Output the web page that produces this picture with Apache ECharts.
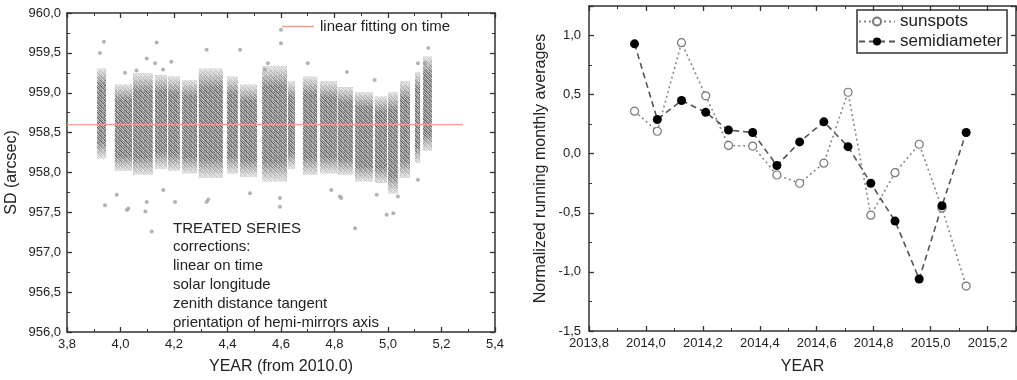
<!DOCTYPE html>
<html><head><meta charset="utf-8">
<script src="https://cdn.jsdelivr.net/npm/echarts@6/dist/echarts.min.js"></script>
<style>html,body{margin:0;padding:0;background:#fff}#c{width:1017px;height:380px}</style>
</head><body><div id="c"></div>
<script>
const stripStart = [3.912, 3.979, 4.047, 4.129, 4.178, 4.230, 4.293, 4.398, 4.447, 4.529, 4.626, 4.682, 4.746, 4.812, 4.877, 4.951, 5.000, 5.045, 5.101, 5.131];
const stripEnd   = [3.946, 4.043, 4.121, 4.174, 4.222, 4.286, 4.383, 4.439, 4.510, 4.622, 4.652, 4.735, 4.809, 4.869, 4.944, 4.996, 5.037, 5.082, 5.120, 5.164];
const stripLow   = [958.18, 958.02, 957.97, 958.05, 958.02, 957.99, 957.93, 957.99, 957.95, 957.89, 958.05, 957.97, 957.99, 957.97, 957.89, 957.87, 957.74, 957.93, 958.12, 958.27];
const stripHigh  = [959.30, 959.10, 959.24, 959.22, 959.20, 959.16, 959.30, 959.20, 959.10, 959.33, 959.14, 959.20, 959.14, 959.07, 959.01, 958.95, 959.01, 959.14, 959.26, 959.45];
const outlierYear = [3.938, 3.923, 4.135, 4.098, 4.017, 4.060, 4.190, 4.322, 4.447, 4.129, 4.159, 3.942, 3.986, 4.029, 4.117, 4.204, 4.322, 4.098, 4.160, 4.877, 4.995, 5.020, 4.596, 4.596, 4.820, 4.958, 4.600, 4.600, 5.151, 5.138, 4.700, 4.846, 4.551, 4.540, 5.112, 4.950, 4.788, 4.825, 5.037, 5.112, 4.484, 4.328, 4.024, 4.093];
const outlierSD   = [959.64, 959.50, 959.63, 959.43, 959.25, 959.28, 959.39, 959.54, 959.54, 959.37, 959.29, 957.59, 957.72, 957.55, 957.26, 957.63, 957.63, 957.63, 957.78, 957.30, 957.47, 957.49, 957.57, 957.68, 957.70, 957.72, 959.79, 959.62, 959.56, 959.37, 959.37, 959.26, 959.37, 959.29, 959.37, 959.16, 957.78, 957.68, 957.70, 957.91, 957.74, 957.66, 957.53, 957.51];
const fitYear = [3.8, 5.28];
const fitSD = [958.6, 958.6];
const leftXTicks = {min: 3.8, max: 5.4, interval: 0.2};
const leftYTicks = {min: 956, max: 960, interval: 0.5};
const annotationLines = ['TREATED SERIES', 'corrections:', 'linear on time', 'solar longitude', 'zenith distance tangent', 'orientation of hemi-mirrors axis'];

// ---- Right panel
const months = [2013.96, 2014.04, 2014.125, 2014.21, 2014.29, 2014.375, 2014.46, 2014.54, 2014.625, 2014.71, 2014.79, 2014.875, 2014.96, 2015.04, 2015.125];
const sunspots = [0.36, 0.19, 0.94, 0.49, 0.07, 0.065, -0.18, -0.25, -0.08, 0.52, -0.52, -0.16, 0.08, -0.46, -1.12];
const semidiameter = [0.93, 0.29, 0.45, 0.35, 0.20, 0.18, -0.10, 0.10, 0.27, 0.06, -0.25, -0.57, -1.06, -0.44, 0.18];
const rightXTicks = {min: 2013.8, max: 2015.3, interval: 0.2};
const rightYTicks = {min: -1.5, max: 1.25, interval: 0.5};

const FONT = "'Liberation Sans', Arial, sans-serif";
const TXT = '#222';

// mottled texture used to paint the dense dot strips (style only)
function makePattern() {
  const g8 = [
    [ 95, 175, 125, 205, 110],
    [150,  75, 190, 135, 165],
    [205, 130, 100, 175,  85],
    [115, 185, 150,  90, 195],
    [170, 105, 215, 140, 120]
  ];
  const c = document.createElement('canvas');
  c.width = 5; c.height = 5;
  const g = c.getContext('2d');
  for (let y = 0; y < 5; y++) for (let x = 0; x < 5; x++) {
    const v = g8[y][x];
    g.fillStyle = 'rgb(' + v + ',' + v + ',' + v + ')';
    g.fillRect(x, y, 1, 1);
  }
  return c;
}
const stripPat = makePattern();

const fmt = v => v.toFixed(1).replace('.', ',');

function valAxis(t, gridIndex, pos, labels, extra) {
  return Object.assign({
    type: 'value', gridIndex, position: pos,
    min: t.min, max: t.max, interval: t.interval,
    axisLine: {show: true, onZero: false, lineStyle: {color: '#333', width: 1.5}},
    axisTick: {show: true, inside: true, length: 5, lineStyle: {color: '#333', width: 1.3}},
    minorTick: {show: true, splitNumber: 2, length: 3, lineStyle: {color: '#333', width: 1}},
    splitLine: {show: false},
    axisLabel: {show: labels, formatter: fmt, fontSize: 13, color: TXT, fontFamily: FONT},
  }, extra || {});
}

const chart = echarts.init(document.getElementById('c'), null, {renderer: 'canvas'});
chart.setOption({
  animation: false,
  backgroundColor: '#fff',
  grid: [
    {left: 67, top: 13, width: 428, height: 319},
    {left: 589, top: 6, width: 427, height: 325}
  ],
  xAxis: [
    valAxis(leftXTicks, 0, 'bottom', true, {name: 'YEAR (from 2010.0)', nameLocation: 'middle', nameGap: 27,
      nameTextStyle: {fontSize: 16, color: TXT, fontFamily: FONT}, axisLabel: {formatter: fmt, fontSize: 13, color: TXT, fontFamily: FONT, margin: 6}}),
    valAxis(leftXTicks, 0, 'top', false),
    valAxis(rightXTicks, 1, 'bottom', true, {name: 'YEAR', nameLocation: 'middle', nameGap: 28,
      nameTextStyle: {fontSize: 16, color: TXT, fontFamily: FONT}, axisLabel: {formatter: fmt, fontSize: 13, color: TXT, fontFamily: FONT, margin: 6, showMaxLabel: false}}),
    valAxis(rightXTicks, 1, 'top', false)
  ],
  yAxis: [
    valAxis(leftYTicks, 0, 'left', true, {name: 'SD (arcsec)', nameLocation: 'middle', nameGap: 47,
      nameTextStyle: {fontSize: 16, color: TXT, fontFamily: FONT}, axisLabel: {formatter: fmt, fontSize: 13, color: TXT, fontFamily: FONT, margin: 6}}),
    valAxis(leftYTicks, 0, 'right', false),
    valAxis(rightYTicks, 1, 'left', true, {name: 'Normalized running monthly averages', nameLocation: 'middle', nameGap: 40,
      nameTextStyle: {fontSize: 16, color: TXT, fontFamily: FONT}, axisLabel: {formatter: fmt, fontSize: 13, color: TXT, fontFamily: FONT, margin: 8, showMaxLabel: false}}),
    valAxis(rightYTicks, 1, 'right', false)
  ],
  legend: [
    {data: [{name: 'linear fitting on time', icon: 'rect'}], left: 282, top: 19, padding: 0,
     itemWidth: 32, itemHeight: 1.5, selectedMode: false,
     textStyle: {fontSize: 15, color: TXT, fontFamily: FONT, padding: [0, 0, 0, 1]}},
    {data: ['sunspots', 'semidiameter'], orient: 'vertical', left: 857, top: 10, selectedMode: false,
     borderColor: '#333', borderWidth: 1.5, padding: [3, 5, 3, 1], itemGap: 3, itemWidth: 36, itemHeight: 10,
     textStyle: {fontSize: 17, color: TXT, fontFamily: FONT}}
  ],
  graphic: [{
    type: 'text', left: 173, top: 219,
    style: {text: annotationLines.join('\n'), fontSize: 15, lineHeight: 18.8, fill: TXT, fontFamily: FONT}
  }],
  series: [
    {
      type: 'custom', xAxisIndex: 0, yAxisIndex: 0, silent: true,
      data: stripStart.map((s, i) => [s, stripEnd[i], stripLow[i], stripHigh[i]]),
      encode: {x: [0, 1], y: [2, 3]},
      renderItem: function (params, api) {
        const p0 = api.coord([api.value(0), api.value(3)]);
        const p1 = api.coord([api.value(1), api.value(2)]);
        const w = p1[0] - p0[0], h = p1[1] - p0[1];
        return {type: 'group', children: [
          {type: 'rect', shape: {x: p0[0], y: p0[1], width: w, height: h}, style: {fill: {image: stripPat, repeat: 'repeat'}}},
          {type: 'rect', shape: {x: p0[0], y: p0[1], width: w, height: h}, style: {fill: new echarts.graphic.LinearGradient(0, 0, 0, 1, [
            {offset: 0, color: 'rgba(255,255,255,0.75)'},
            {offset: 0.18, color: 'rgba(255,255,255,0.05)'},
            {offset: 0.82, color: 'rgba(255,255,255,0.05)'},
            {offset: 1, color: 'rgba(255,255,255,0.75)'}
          ])}}
        ]};
      }
    },
    {
      type: 'scatter', xAxisIndex: 0, yAxisIndex: 0, silent: true,
      data: outlierYear.map((x, i) => [x, outlierSD[i]]),
      symbolSize: 4, itemStyle: {color: '#a0a0a0'}
    },
    {
      name: 'linear fitting on time', type: 'line', xAxisIndex: 0, yAxisIndex: 0, silent: true,
      data: fitYear.map((x, i) => [x, fitSD[i]]), symbol: 'none',
      lineStyle: {color: '#f4a08c', width: 1.2}, itemStyle: {color: '#f4a08c'}
    },
    {
      name: 'sunspots', type: 'line', xAxisIndex: 2, yAxisIndex: 2,
      data: months.map((x, i) => [x, sunspots[i]]),
      symbol: 'circle', symbolSize: 8, showAllSymbol: true,
      lineStyle: {color: '#888', width: 1.6, type: [2, 3]},
      itemStyle: {color: '#fff', borderColor: '#777', borderWidth: 1.2}
    },
    {
      name: 'semidiameter', type: 'line', xAxisIndex: 2, yAxisIndex: 2,
      data: months.map((x, i) => [x, semidiameter[i]]),
      symbol: 'circle', symbolSize: 9, showAllSymbol: true,
      lineStyle: {color: '#555', width: 1.6, type: [6, 4]},
      itemStyle: {color: '#000', borderColor: '#000', borderWidth: 0}
    }
  ]
});
</script></body></html>
